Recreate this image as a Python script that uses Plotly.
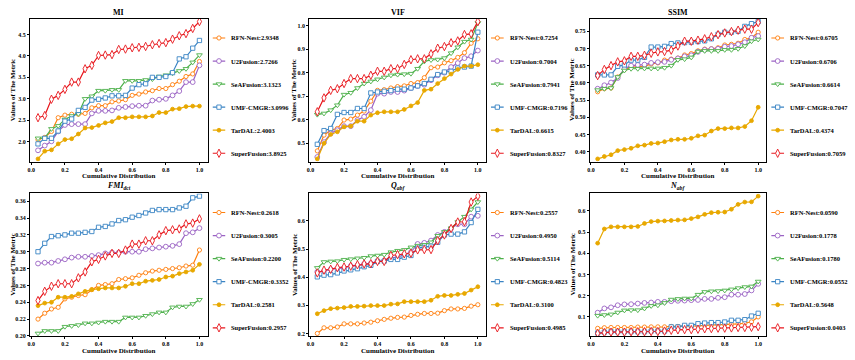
import plotly.graph_objects as go

# ---------------- data ----------------
X = [0.04, 0.08, 0.12, 0.16, 0.20, 0.24, 0.28, 0.32, 0.36, 0.40, 0.44, 0.48, 0.52,
     0.56, 0.60, 0.64, 0.68, 0.72, 0.76, 0.80, 0.84, 0.88, 0.92, 0.96, 1.00]
X_TICKS = [0.0, 0.2, 0.4, 0.6, 0.8, 1.0]

METHODS = ["RFN-Nest", "U2Fusion", "SeAFusion", "UMF-CMGR", "TarDAL", "SuperFusion"]
TITLES = ["MI", "VIF", "SSIM", "<i>FMI</i><sub><i>dct</i></sub>",
          "<i>Q</i><sub><i>abf</i></sub>", "<i>N</i><sub><i>abf</i></sub>"]
X_LABEL = "Cumulative Distribution"
Y_LABEL = "Values of The Metric"

# legend averages
MI_MEAN = [2.9348, 2.7266, 3.1323, 3.0996, 2.4003, 3.8925]
VIF_MEAN = [0.7254, 0.7004, 0.7941, 0.7196, 0.6615, 0.8327]
SSIM_MEAN = [0.6705, 0.6706, 0.6614, 0.7047, 0.4374, 0.7059]
FMI_MEAN = [0.2618, 0.3005, 0.2200, 0.3352, 0.2581, 0.2957]
QABF_MEAN = [0.2557, 0.4950, 0.5114, 0.4823, 0.3100, 0.4985]
NABF_MEAN = [0.0590, 0.1778, 0.1780, 0.0552, 0.5648, 0.0403]

# MI
MI_RFN = [2.05, 2.10, 2.24, 2.56, 2.62, 2.64, 2.64, 2.66, 2.79, 2.84, 2.84, 2.93, 2.95, 2.98, 3.08, 3.11, 3.16, 3.19, 3.24, 3.24, 3.33, 3.41, 3.52, 3.58, 3.87]
MI_U2 = [1.80, 1.91, 2.01, 2.24, 2.39, 2.41, 2.41, 2.41, 2.66, 2.72, 2.72, 2.73, 2.79, 2.81, 2.83, 2.84, 2.84, 2.96, 2.98, 3.00, 3.08, 3.18, 3.39, 3.39, 3.78]
MI_SEA = [2.08, 2.09, 2.30, 2.37, 2.52, 2.60, 2.65, 3.00, 3.06, 3.19, 3.19, 3.21, 3.21, 3.42, 3.42, 3.42, 3.44, 3.46, 3.52, 3.55, 3.60, 3.65, 3.70, 3.85, 4.02]
MI_UMF = [1.95, 2.08, 2.08, 2.25, 2.48, 2.53, 2.73, 2.80, 2.97, 2.99, 3.02, 3.07, 3.07, 3.08, 3.25, 3.33, 3.35, 3.50, 3.50, 3.52, 3.61, 3.93, 3.98, 4.18, 4.36]
MI_TAR = [1.60, 1.78, 1.81, 1.95, 2.05, 2.07, 2.18, 2.32, 2.33, 2.38, 2.44, 2.47, 2.56, 2.56, 2.58, 2.58, 2.58, 2.60, 2.68, 2.68, 2.76, 2.77, 2.82, 2.83, 2.83]
MI_SUP = [2.56, 2.61, 2.99, 3.08, 3.22, 3.39, 3.39, 3.70, 3.78, 4.01, 4.02, 4.03, 4.15, 4.16, 4.19, 4.20, 4.22, 4.26, 4.29, 4.31, 4.39, 4.47, 4.52, 4.64, 4.80]

# VIF
VIF_RFN = [0.468, 0.535, 0.556, 0.563, 0.599, 0.603, 0.620, 0.637, 0.679, 0.725, 0.728, 0.735, 0.741, 0.744, 0.754, 0.758, 0.779, 0.821, 0.824, 0.842, 0.851, 0.865, 0.885, 0.925, 0.944]
VIF_U2 = [0.442, 0.505, 0.542, 0.556, 0.573, 0.573, 0.599, 0.613, 0.641, 0.711, 0.711, 0.718, 0.718, 0.724, 0.735, 0.744, 0.749, 0.768, 0.789, 0.800, 0.824, 0.841, 0.862, 0.870, 0.894]
VIF_SEA = [0.622, 0.627, 0.641, 0.662, 0.707, 0.715, 0.735, 0.754, 0.763, 0.772, 0.780, 0.789, 0.792, 0.794, 0.796, 0.817, 0.848, 0.854, 0.856, 0.862, 0.883, 0.908, 0.932, 0.941, 1.011]
VIF_UMF = [0.496, 0.554, 0.563, 0.623, 0.631, 0.631, 0.648, 0.648, 0.714, 0.718, 0.721, 0.724, 0.730, 0.730, 0.735, 0.744, 0.754, 0.772, 0.792, 0.803, 0.806, 0.820, 0.824, 0.828, 0.972]
VIF_TAR = [0.434, 0.500, 0.538, 0.549, 0.570, 0.573, 0.594, 0.594, 0.620, 0.630, 0.634, 0.634, 0.634, 0.644, 0.659, 0.673, 0.725, 0.730, 0.754, 0.775, 0.794, 0.814, 0.828, 0.828, 0.834]
VIF_SUP = [0.634, 0.693, 0.725, 0.732, 0.754, 0.775, 0.775, 0.775, 0.789, 0.806, 0.806, 0.817, 0.817, 0.835, 0.855, 0.859, 0.859, 0.880, 0.904, 0.911, 0.927, 0.935, 0.962, 0.965, 1.017]

# SSIM
SSIM_RFN = [0.574, 0.583, 0.585, 0.617, 0.638, 0.645, 0.647, 0.648, 0.655, 0.658, 0.666, 0.669, 0.672, 0.681, 0.685, 0.693, 0.698, 0.699, 0.702, 0.710, 0.712, 0.715, 0.726, 0.731, 0.747]
SSIM_U2 = [0.583, 0.593, 0.601, 0.614, 0.641, 0.650, 0.652, 0.653, 0.658, 0.660, 0.661, 0.667, 0.671, 0.677, 0.680, 0.690, 0.696, 0.698, 0.699, 0.705, 0.707, 0.712, 0.718, 0.731, 0.736]
SSIM_SEA = [0.579, 0.583, 0.585, 0.617, 0.636, 0.641, 0.641, 0.642, 0.642, 0.642, 0.644, 0.650, 0.667, 0.669, 0.674, 0.691, 0.693, 0.693, 0.693, 0.696, 0.696, 0.699, 0.707, 0.721, 0.726]
SSIM_UMF = [0.623, 0.623, 0.623, 0.648, 0.652, 0.666, 0.666, 0.674, 0.704, 0.704, 0.706, 0.714, 0.716, 0.717, 0.718, 0.720, 0.722, 0.728, 0.741, 0.747, 0.747, 0.750, 0.764, 0.772, 0.778]
SSIM_TAR = [0.379, 0.386, 0.391, 0.403, 0.406, 0.410, 0.417, 0.419, 0.424, 0.425, 0.429, 0.434, 0.436, 0.436, 0.439, 0.446, 0.448, 0.460, 0.467, 0.467, 0.469, 0.469, 0.473, 0.490, 0.529]
SSIM_SUP = [0.621, 0.639, 0.650, 0.661, 0.664, 0.677, 0.677, 0.680, 0.686, 0.690, 0.691, 0.695, 0.707, 0.721, 0.721, 0.724, 0.728, 0.734, 0.740, 0.745, 0.749, 0.753, 0.756, 0.756, 0.775]

# FMI_dct
FMI_RFN = [0.220, 0.227, 0.232, 0.234, 0.244, 0.246, 0.248, 0.249, 0.255, 0.260, 0.261, 0.262, 0.267, 0.268, 0.269, 0.272, 0.275, 0.277, 0.278, 0.279, 0.280, 0.281, 0.283, 0.284, 0.302]
FMI_U2 = [0.286, 0.287, 0.287, 0.289, 0.291, 0.293, 0.294, 0.294, 0.295, 0.296, 0.298, 0.299, 0.299, 0.300, 0.300, 0.300, 0.303, 0.304, 0.305, 0.306, 0.307, 0.309, 0.322, 0.323, 0.328]
FMI_SEA = [0.203, 0.206, 0.206, 0.206, 0.211, 0.212, 0.213, 0.215, 0.215, 0.216, 0.217, 0.217, 0.217, 0.222, 0.222, 0.222, 0.224, 0.226, 0.228, 0.228, 0.234, 0.235, 0.235, 0.238, 0.243]
FMI_UMF = [0.300, 0.310, 0.318, 0.319, 0.320, 0.322, 0.322, 0.323, 0.324, 0.329, 0.330, 0.333, 0.337, 0.338, 0.341, 0.343, 0.346, 0.349, 0.350, 0.350, 0.350, 0.352, 0.354, 0.364, 0.366]
FMI_TAR = [0.236, 0.239, 0.240, 0.246, 0.246, 0.247, 0.250, 0.253, 0.255, 0.256, 0.257, 0.257, 0.257, 0.259, 0.262, 0.262, 0.265, 0.266, 0.267, 0.270, 0.271, 0.274, 0.276, 0.278, 0.285]
FMI_SUP = [0.242, 0.253, 0.259, 0.262, 0.262, 0.262, 0.269, 0.276, 0.288, 0.291, 0.295, 0.298, 0.298, 0.302, 0.309, 0.309, 0.313, 0.313, 0.320, 0.325, 0.326, 0.327, 0.333, 0.334, 0.339]

# Q_abf
QABF_RFN = [0.200, 0.220, 0.220, 0.223, 0.234, 0.234, 0.234, 0.237, 0.240, 0.245, 0.250, 0.254, 0.257, 0.258, 0.264, 0.268, 0.271, 0.271, 0.272, 0.281, 0.287, 0.287, 0.289, 0.297, 0.302]
QABF_U2 = [0.419, 0.421, 0.428, 0.430, 0.433, 0.440, 0.442, 0.447, 0.449, 0.456, 0.458, 0.468, 0.471, 0.480, 0.489, 0.518, 0.522, 0.530, 0.550, 0.561, 0.573, 0.588, 0.588, 0.615, 0.618]
QABF_SEA = [0.433, 0.454, 0.456, 0.457, 0.462, 0.464, 0.467, 0.469, 0.475, 0.477, 0.480, 0.489, 0.494, 0.497, 0.506, 0.512, 0.515, 0.524, 0.547, 0.561, 0.574, 0.596, 0.615, 0.641, 0.667]
QABF_UMF = [0.401, 0.407, 0.409, 0.415, 0.422, 0.426, 0.430, 0.437, 0.442, 0.456, 0.457, 0.463, 0.463, 0.471, 0.477, 0.503, 0.506, 0.510, 0.524, 0.550, 0.553, 0.553, 0.561, 0.594, 0.641]
QABF_TAR = [0.270, 0.281, 0.288, 0.290, 0.292, 0.296, 0.296, 0.297, 0.299, 0.299, 0.299, 0.304, 0.305, 0.313, 0.313, 0.313, 0.313, 0.318, 0.332, 0.335, 0.335, 0.339, 0.342, 0.354, 0.366]
QABF_SUP = [0.415, 0.425, 0.428, 0.434, 0.436, 0.439, 0.444, 0.447, 0.448, 0.456, 0.456, 0.477, 0.480, 0.483, 0.485, 0.497, 0.498, 0.498, 0.530, 0.550, 0.573, 0.596, 0.597, 0.667, 0.688]

# N_abf
NABF_RFN = [0.046, 0.049, 0.050, 0.050, 0.050, 0.050, 0.052, 0.052, 0.053, 0.053, 0.053, 0.055, 0.055, 0.057, 0.057, 0.058, 0.060, 0.061, 0.063, 0.064, 0.064, 0.067, 0.070, 0.077, 0.100]
NABF_U2 = [0.120, 0.140, 0.145, 0.155, 0.159, 0.160, 0.163, 0.166, 0.168, 0.171, 0.171, 0.174, 0.176, 0.177, 0.179, 0.180, 0.185, 0.185, 0.190, 0.193, 0.205, 0.205, 0.208, 0.225, 0.256]
NABF_SEA = [0.106, 0.109, 0.112, 0.121, 0.131, 0.132, 0.132, 0.140, 0.152, 0.155, 0.166, 0.182, 0.185, 0.187, 0.187, 0.205, 0.218, 0.221, 0.222, 0.225, 0.230, 0.236, 0.241, 0.244, 0.267]
NABF_UMF = [0.024, 0.028, 0.030, 0.030, 0.030, 0.030, 0.030, 0.030, 0.033, 0.033, 0.033, 0.053, 0.053, 0.060, 0.060, 0.068, 0.071, 0.073, 0.073, 0.076, 0.084, 0.084, 0.087, 0.104, 0.117]
NABF_TAR = [0.448, 0.515, 0.525, 0.525, 0.525, 0.525, 0.527, 0.541, 0.550, 0.552, 0.553, 0.555, 0.557, 0.558, 0.564, 0.572, 0.584, 0.592, 0.594, 0.595, 0.608, 0.631, 0.642, 0.643, 0.670]
NABF_SUP = [0.022, 0.026, 0.028, 0.028, 0.028, 0.030, 0.030, 0.030, 0.031, 0.031, 0.033, 0.037, 0.039, 0.040, 0.040, 0.042, 0.044, 0.045, 0.047, 0.047, 0.048, 0.050, 0.050, 0.051, 0.054]

# y tick settings per panel
Y_DTICK = [0.5, 0.1, 0.05, 0.02, 0.1, 0.1]
Y_FMT = [".1f", ".1f", ".2f", ".2f", ".1f", ".1f"]

# ---------------- styles ----------------
COLORS = ["#ff7f0e", "#9b63c4", "#4cb04a", "#3a84c4", "#e8a800", "#e8161c"]
SYMBOLS = ["circle", "circle", "triangle-down", "square", "circle", "diamond-tall"]
SIZES = [4.2, 4.8, 5, 4.3, 3.8, 6]
FONT = "Liberation Serif"

PANELS = [
    (TITLES[0], [MI_RFN, MI_U2, MI_SEA, MI_UMF, MI_TAR, MI_SUP], MI_MEAN),
    (TITLES[1], [VIF_RFN, VIF_U2, VIF_SEA, VIF_UMF, VIF_TAR, VIF_SUP], VIF_MEAN),
    (TITLES[2], [SSIM_RFN, SSIM_U2, SSIM_SEA, SSIM_UMF, SSIM_TAR, SSIM_SUP], SSIM_MEAN),
    (TITLES[3], [FMI_RFN, FMI_U2, FMI_SEA, FMI_UMF, FMI_TAR, FMI_SUP], FMI_MEAN),
    (TITLES[4], [QABF_RFN, QABF_U2, QABF_SEA, QABF_UMF, QABF_TAR, QABF_SUP], QABF_MEAN),
    (TITLES[5], [NABF_RFN, NABF_U2, NABF_SEA, NABF_UMF, NABF_TAR, NABF_SUP], NABF_MEAN),
]

W, H = 855, 360
COL_PX = [(28, 206), (308, 485), (589, 766)]
ROW_PX = [(19, 163), (195, 339)]
YLAB_X = [11, 293, 572]
XLAB_Y = [177, 353.5]
LEG_X0, LEG_LEN, LEG_TXT = 5, 13, 5      # px offsets of legend swatch / text
LEG_Y0, LEG_STEP = 19.3, 23.25           # px below frame top

fig = go.Figure()
layout = dict(width=W, height=H, autosize=False, margin=dict(l=0, r=0, t=0, b=0),
              paper_bgcolor="white", plot_bgcolor="white", showlegend=False,
              font=dict(family=FONT, color="black"))
annotations = []

def mstyle(i):
    filled = (i == 4)
    return dict(symbol=SYMBOLS[i], size=SIZES[i],
                color=COLORS[i] if filled else "white",
                line=dict(color=COLORS[i], width=0.9))

for k, (title, series, means) in enumerate(PANELS):
    r, c = divmod(k, 3)
    idx = "" if k == 0 else str(k + 1)
    lidx = str(k + 7)
    x0, x1 = COL_PX[c]
    ytop, ybot = ROW_PX[r]
    xd = [x0 / W, x1 / W]
    yd = [1 - ybot / H, 1 - ytop / H]

    for i, (name, ys) in enumerate(zip(METHODS, series)):
        fig.add_trace(go.Scatter(
            x=X, y=ys, mode="lines+markers", name=name,
            xaxis="x" + idx, yaxis="y" + idx,
            line=dict(color=COLORS[i], width=1.2),
            marker=mstyle(i),
        ))

    allv = [v for s in series for v in s]
    lo, hi = min(allv), max(allv)
    pad = 0.02 * (hi - lo)

    axis_common = dict(showline=True, linecolor="black", linewidth=1, mirror=True,
                       ticks="outside", ticklen=2, tickwidth=1, tickcolor="black",
                       showgrid=False, zeroline=False,
                       tickfont=dict(family=FONT, size=6, color="black", weight="bold"))
    layout["xaxis" + idx] = dict(domain=xd, anchor="y" + idx, range=[-0.008, 1.048],
                                 tickvals=X_TICKS, tickformat=".1f", **axis_common)
    layout["yaxis" + idx] = dict(domain=yd, anchor="x" + idx, range=[lo - pad, hi + pad],
                                 dtick=Y_DTICK[k], tick0=0, tickformat=Y_FMT[k], **axis_common)

    # ---- manual legend in its own hidden axes (units: px from frame top) ----
    lx0 = x1 + LEG_X0
    layout["xaxis" + lidx] = dict(domain=[lx0 / W, (lx0 + LEG_LEN) / W], anchor="y" + lidx,
                                  range=[0, 1], visible=False, fixedrange=True)
    layout["yaxis" + lidx] = dict(domain=yd, anchor="x" + lidx, range=[ybot - ytop, 0],
                                  visible=False, fixedrange=True)
    for i, name in enumerate(METHODS):
        yy = LEG_Y0 + LEG_STEP * i
        fig.add_trace(go.Scatter(x=[0, 1], y=[yy, yy], mode="lines", hoverinfo="skip",
                                 xaxis="x" + lidx, yaxis="y" + lidx,
                                 line=dict(color=COLORS[i], width=1.2)))
        fig.add_trace(go.Scatter(x=[0.5], y=[yy], mode="markers", hoverinfo="skip",
                                 xaxis="x" + lidx, yaxis="y" + lidx, marker=mstyle(i)))
        annotations.append(dict(text=f"{name}:{means[i]:.4f}", x=1, y=yy,
                                xref="x" + lidx, yref="y" + lidx, xanchor="left", yanchor="middle",
                                xshift=LEG_TXT, showarrow=False, borderpad=0,
                                font=dict(family=FONT, size=6.5, color="black", weight="bold")))

    cx = (x0 + x1) / 2 / W
    annotations.append(dict(text=title, x=cx, y=1 - (ytop - 1) / H, xref="paper", yref="paper",
                            xanchor="center", yanchor="bottom", showarrow=False, borderpad=0,
                            font=dict(family=FONT, size=8, color="black", weight="bold")))
    annotations.append(dict(text=X_LABEL, x=cx, y=1 - XLAB_Y[r] / H, xref="paper", yref="paper",
                            xanchor="center", yanchor="middle", showarrow=False, borderpad=0,
                            font=dict(family=FONT, size=7, color="black", weight="bold")))
    annotations.append(dict(text=Y_LABEL, x=YLAB_X[c] / W, y=1 - (ytop + ybot) / 2 / H,
                            xref="paper", yref="paper", textangle=-90, borderpad=0,
                            xanchor="center", yanchor="middle", showarrow=False,
                            font=dict(family=FONT, size=7, color="black", weight="bold")))

layout["annotations"] = annotations
fig.update_layout(**layout)
fig.write_html("out.html", config={"responsive": False, "displayModeBar": False},
               post_script="document.body.style.margin='0';document.body.style.overflow='hidden';")
